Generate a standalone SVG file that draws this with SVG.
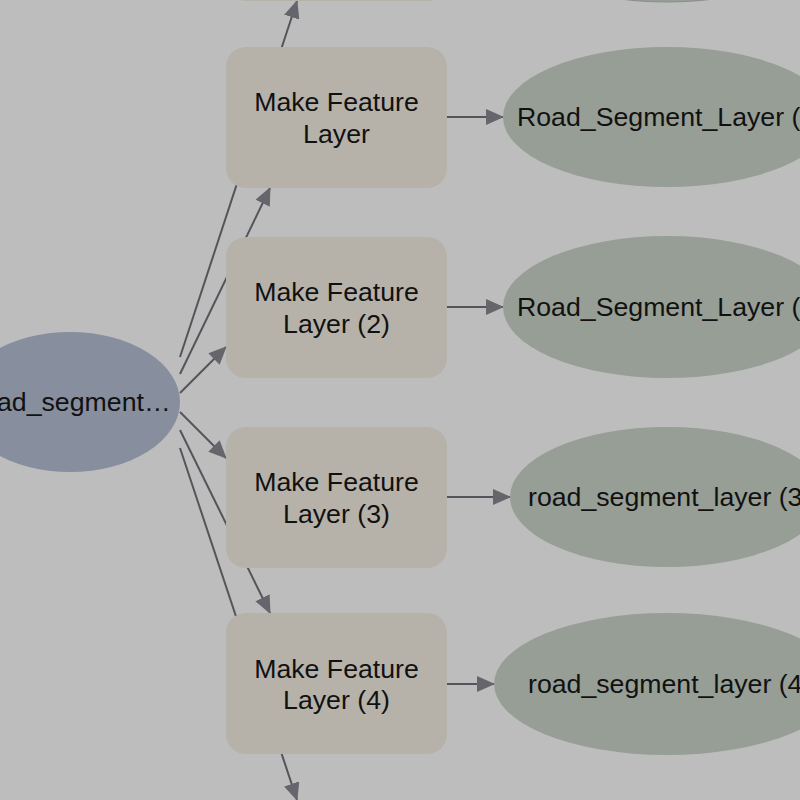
<svg xmlns="http://www.w3.org/2000/svg" width="800" height="800" viewBox="0 0 800 800">
<defs>
<style>
.bg{fill:#bdbdbe}
.proc{fill:#b6b2a9}
.out{fill:#969e96}
.inp{fill:#878e9d}
.t{font-family:"Liberation Sans",Arial,sans-serif;font-size:26.7px;fill:#111}
.c{text-anchor:middle}
.e{stroke:#55545a;stroke-width:2;fill:none}
</style>
<marker id="a" viewBox="0 0 18 16" markerWidth="18" markerHeight="16" refX="17" refY="8" orient="auto" markerUnits="userSpaceOnUse">
<path d="M0,0 L18,8 L0,16 z" fill="#67656c"/>
</marker>
</defs>
<rect class="bg" x="0" y="0" width="800" height="800"/>
<g id="connectors">
<line class="e" x1="180" y1="357" x2="297" y2="1" marker-end="url(#a)"/>
<line class="e" x1="180" y1="374" x2="270" y2="188" marker-end="url(#a)"/>
<line class="e" x1="180" y1="393" x2="226" y2="347" marker-end="url(#a)"/>
<line class="e" x1="180" y1="412" x2="226" y2="458" marker-end="url(#a)"/>
<line class="e" x1="180" y1="430" x2="270" y2="613" marker-end="url(#a)"/>
<line class="e" x1="180" y1="448" x2="297" y2="800" marker-end="url(#a)"/>
<line class="e" x1="447" y1="117" x2="503" y2="117" marker-end="url(#a)"/>
<line class="e" x1="447" y1="307" x2="503" y2="307" marker-end="url(#a)"/>
<line class="e" x1="447" y1="497" x2="510" y2="497" marker-end="url(#a)"/>
<line class="e" x1="447" y1="684" x2="494" y2="684" marker-end="url(#a)"/>
</g>
<g id="proc0"><rect class="proc" x="226" y="-140" width="221" height="141" rx="20"/></g>
<g id="out0"><ellipse class="out" cx="667" cy="-68" rx="164" ry="70" stroke="#8a8f8a" stroke-width="1"/></g>
<g id="input"><ellipse class="inp" cx="70" cy="402" rx="110" ry="70"/>
<text class="t" x="-3" y="411">ad_segment…</text></g>
<g id="proc1"><rect class="proc" x="226" y="47" width="221" height="141" rx="20"/>
<text class="t c" x="336.5" y="111">Make Feature</text><text class="t c" x="336.5" y="143">Layer</text></g>
<g id="proc2"><rect class="proc" x="226" y="237" width="221" height="141" rx="20"/>
<text class="t c" x="336.5" y="301">Make Feature</text><text class="t c" x="336.5" y="333">Layer (2)</text></g>
<g id="proc3"><rect class="proc" x="226" y="427" width="221" height="141" rx="20"/>
<text class="t c" x="336.5" y="491">Make Feature</text><text class="t c" x="336.5" y="523">Layer (3)</text></g>
<g id="proc4"><rect class="proc" x="226" y="613" width="221" height="141" rx="20"/>
<text class="t c" x="336.5" y="678">Make Feature</text><text class="t c" x="336.5" y="709">Layer (4)</text></g>
<g id="out1"><ellipse class="out" cx="667" cy="117" rx="164" ry="70"/>
<text class="t" x="517" y="126">Road_Segment_Layer (</text></g>
<g id="out2"><ellipse class="out" cx="667" cy="307" rx="164" ry="71"/>
<text class="t" x="517" y="316">Road_Segment_Layer (</text></g>
<g id="out3"><ellipse class="out" cx="667" cy="497" rx="157" ry="70"/>
<text class="t" x="528" y="506">road_segment_layer (3</text></g>
<g id="out4"><ellipse class="out" cx="667" cy="684" rx="173" ry="71"/>
<text class="t" x="528" y="693">road_segment_layer (4</text></g>
</svg>
